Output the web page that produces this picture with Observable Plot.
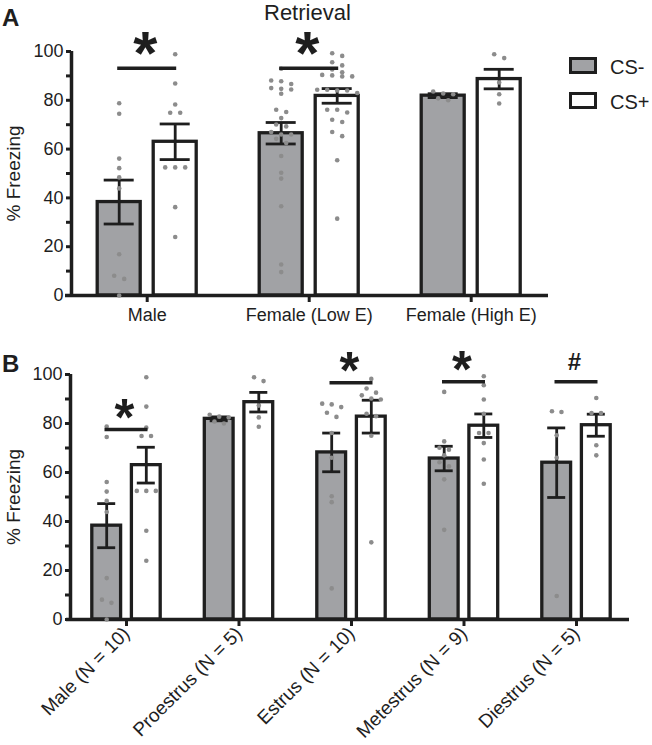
<!DOCTYPE html>
<html><head><meta charset="utf-8">
<script src="https://cdn.jsdelivr.net/npm/d3@7"></script>
<script src="https://cdn.jsdelivr.net/npm/@observablehq/plot@0.6"></script>
<style>
body{margin:0;background:#fff;font-family:"Liberation Sans",Arial,sans-serif;color:#1e1e1e;}
#wrap{position:relative;width:652px;height:745px;overflow:hidden;}
.abs{position:absolute;}
.panel-letter{font-weight:bold;font-size:24px;line-height:1;}
.title{font-size:22px;line-height:1;}
.lg-box{position:absolute;width:28px;height:17px;box-sizing:border-box;border:3px solid #1e1e1e;}
.lg-text{position:absolute;font-size:20px;line-height:1;}
svg{overflow:visible;}
</style></head>
<body><div id="wrap">
<div id="pa" class="abs" style="left:0;top:0"></div>
<div id="pb" class="abs" style="left:0;top:330px"></div>
<div class="abs panel-letter" style="left:2px;top:6px">A</div>
<div class="abs panel-letter" style="left:2px;top:352px">B</div>
<div class="abs title" style="left:264px;top:2px">Retrieval</div>
<div class="lg-box" style="left:569px;top:57px;background:#a1a2a5"></div>
<div class="lg-text" style="left:610px;top:57px">CS-</div>
<div class="lg-box" style="left:569px;top:92px;background:#fff"></div>
<div class="lg-text" style="left:610px;top:92px">CS+</div>
</div>
<script>
// ---------- data ----------
const groupsA = ["Male", "Female (Low E)", "Female (High E)"];
const meanMinusA = [38.3, 66.5, 81.9];
const semMinusA  = [9.0, 4.4, 0.8];
const meanPlusA  = [63.0, 81.8, 88.7];
const semPlusA   = [7.3, 3.0, 4.0];

const groupsB = ["Male (N = 10)", "Proestrus (N = 5)", "Estrus (N = 10)", "Metestrus (N = 9)", "Diestrus (N = 5)"];
const meanMinusB = [38.3, 81.9, 68.2, 65.7, 64.0];
const semMinusB  = [9.0, 0.8, 7.9, 5.0, 14.2];
const meanPlusB  = [63.0, 88.7, 82.8, 79.1, 79.3];
const semPlusB   = [7.3, 4.0, 6.7, 4.8, 4.5];

// individual animals (% freezing)
const maleMinus = [78.8, 74.5, 56.1, 52.2, 48.4, 43.9, 16.9, 8.1, 6.8, 0];
const malePlus  = [98.9, 86.9, 78.3, 74.9, 74.9, 52.5, 52.5, 52.5, 36.2, 24.0];
const proMinus  = [83.6, 82.8, 82.5, 80.8, 80.0];
const proPlus   = [98.9, 97.3, 87.3, 82.5, 78.7];
const estMinus  = [88.1, 87.8, 86.7, 84.4, 82.7, 76.1, 66.0, 50.3, 47.9, 12.7];
const estPlus   = [98.2, 94.3, 92.6, 91.5, 90.2, 89.8, 84.0, 83.0, 75.0, 31.5];
const metMinus  = [92.9, 72.7, 70.1, 69.3, 67.0, 64.2, 62.5, 57.2, 36.6];
const metPlus   = [99.3, 95.6, 89.8, 84.0, 76.1, 76.1, 72.0, 65.3, 55.4];
const dieMinus  = [85.0, 84.7, 75.2, 66.0, 9.6];
const diePlus   = [90.4, 84.3, 84.3, 71.1, 67.0];

const pointsMinusA = [maleMinus, estMinus.concat(metMinus, dieMinus), proMinus];
const pointsPlusA  = [malePlus, estPlus.concat(metPlus, diePlus), proPlus];
const pointsMinusB = [maleMinus, proMinus, estMinus, metMinus, dieMinus];
const pointsPlusB  = [malePlus, proPlus, estPlus, metPlus, diePlus];

const sigGroupA = [0, 1];
const sigHeightA = [93.1, 93.1];
const sigSymbolA = ["*", "*"];
const sigGroupB = [0, 2, 3, 4];
const sigHeightB = [77.6, 96.6, 97.0, 97.0];
const sigSymbolB = ["*", "*", "*", "#"];

// ---------- drawing ----------
const INK = "#1e1e1e", GRAY = "#a1a2a5", DOT = "#8c8c8c";
const FONT = "'Liberation Sans', Arial, Helvetica, sans-serif";

// deterministic column scatter: values close in height are laid side by side
function swarm(values, pxPerUnit, step, rowTol) {
  const sorted = values.slice().sort((a, b) => b - a);
  const rows = [];
  for (const v of sorted) {
    const r = rows[rows.length - 1];
    if (r && (r[0] - v) * pxPerUnit < rowTol) r.push(v); else rows.push([v]);
  }
  const out = [];
  for (const r of rows) r.forEach((v, k) => out.push({v, off: (k - (r.length - 1) / 2) * step}));
  return out;
}

function panel(o) {
  const n = o.groups.length;
  const pxX = (o.xRange[1] - o.xRange[0]) / n;
  const pxY = (o.height - o.marginBottom - o.marginTop) / 100;
  const toX = px => -0.5 + (px - o.xRange[0]) / pxX;
  const off = {"CS-": -o.barOffPx / pxX, "CS+": o.barOffPx / pxX};
  const hw = o.barHalfPx / pxX, cap = o.capHalfPx / pxX, sh = o.sigHalfPx / pxX;
  const bars = [];
  o.groups.forEach((g, i) => {
    bars.push({gi: i, cond: "CS-", mean: o.mMinus[i], sem: o.sMinus[i]});
    bars.push({gi: i, cond: "CS+", mean: o.mPlus[i], sem: o.sPlus[i]});
  });
  const pts = [];
  o.groups.forEach((g, i) => {
    [["CS-", o.pMinus[i]], ["CS+", o.pPlus[i]]].forEach(([cond, arr]) => {
      for (const p of swarm(arr, pxY, o.dotStep, o.rowTol))
        pts.push({gi: i, cond, v: p.v, x: i + off[cond] + p.off / pxX});
    });
  });
  const sig = o.sigGroup.map((g, k) => ({gi: g, h: o.sigHeight[k], s: o.sigSymbol[k]}));
  const cx = d => d.gi + off[d.cond];
  const yAxisX = toX(o.marginLeft);
  return Plot.plot({
    width: 652, height: o.height,
    marginLeft: o.marginLeft, marginRight: 0, marginTop: o.marginTop, marginBottom: o.marginBottom,
    x: {type: "linear", domain: [-0.5, n - 0.5], range: o.xRange, label: null},
    y: {domain: [0, 100], label: null},
    style: {fontFamily: FONT, fontSize: "18px", color: INK, background: "transparent", overflow: "visible"},
    marks: [
      Plot.rect(bars, {x1: d => cx(d) - hw, x2: d => cx(d) + hw, y1: 0, y2: "mean",
        fill: d => d.cond === "CS-" ? GRAY : "#ffffff", stroke: INK, strokeWidth: 3.3}),
      Plot.ruleX(bars, {x: cx, y1: d => d.mean - d.sem, y2: d => d.mean + d.sem, stroke: INK, strokeWidth: 2.8}),
      Plot.ruleY(bars, {y: d => d.mean + d.sem, x1: d => cx(d) - cap, x2: d => cx(d) + cap, stroke: INK, strokeWidth: 2.8}),
      Plot.ruleY(bars, {y: d => d.mean - d.sem, x1: d => cx(d) - cap, x2: d => cx(d) + cap, stroke: INK, strokeWidth: 2.8}),
      Plot.ruleY([0], {x1: toX(o.xLinePx[0]), x2: toX(o.xLinePx[1]), stroke: INK, strokeWidth: 3.5}),
      Plot.ruleX([yAxisX], {y1: 0, y2: 100, stroke: INK, strokeWidth: 3.5}),
      Plot.dot(pts, {x: "x", y: "v", r: 2.3, fill: DOT, stroke: "none"}),
      Plot.ruleY(sig, {y: "h", x1: d => d.gi - sh, x2: d => d.gi + sh, stroke: INK, strokeWidth: 3.5}),
      Plot.text(sig.filter(d => d.s === "*"), {x: "gi", y: "h", text: "s", fontSize: o.starSize, fontWeight: "bold",
        dy: o.starDy, dx: -2, fill: INK}),
      Plot.text(sig.filter(d => d.s === "#"), {x: "gi", y: "h", text: "s", fontSize: 24, fontWeight: "bold",
        dy: o.hashDy, dx: -2, fill: INK}),
      Plot.axisY({ticks: d3.range(0, 101, 10), tickFormat: d => d % 20 === 0 ? String(d) : "",
        tickSize: 5, tickPadding: 3, strokeWidth: 3, label: null}),
      Plot.axisX({ticks: d3.range(n), tickFormat: i => o.groups[i], tickSize: 7, tickPadding: o.tickPadX,
        strokeWidth: 3, tickRotate: o.rotate, fontSize: o.xFont, label: null}),
      Plot.text(["% Freezing"], {x: yAxisX, y: 50, text: d => d, rotate: -90, dx: -(o.marginLeft - 13), fontSize: 19, fill: INK})
    ]
  });
}

document.getElementById("pa").append(panel({
  groups: groupsA, mMinus: meanMinusA, sMinus: semMinusA, mPlus: meanPlusA, sPlus: semPlusA,
  pMinus: pointsMinusA, pPlus: pointsPlusA,
  sigGroup: sigGroupA, sigHeight: sigHeightA, sigSymbol: sigSymbolA,
  height: 330, marginTop: 51, marginBottom: 35, marginLeft: 71,
  xRange: [65.7, 551.7], xLinePx: [65, 548],
  barOffPx: 28, barHalfPx: 21.5, capHalfPx: 15, sigHalfPx: 29.5, dotStep: 10, rowTol: 5,
  starSize: 62, starDy: -14, hashDy: -20, rotate: 0, tickPadX: 6, xFont: 18
}));

document.getElementById("pb").append(panel({
  groups: groupsB, mMinus: meanMinusB, sMinus: semMinusB, mPlus: meanPlusB, sPlus: semPlusB,
  pMinus: pointsMinusB, pPlus: pointsPlusB,
  sigGroup: sigGroupB, sigHeight: sigHeightB, sigSymbol: sigSymbolB,
  height: 415, marginTop: 44, marginBottom: 126, marginLeft: 70,
  xRange: [69.75, 632.25], xLinePx: [66, 629],
  barOffPx: 19.8, barHalfPx: 14.4, capHalfPx: 9, sigHalfPx: 21.5, dotStep: 9.5, rowTol: 5,
  starSize: 51, starDy: -11, hashDy: -20, rotate: -45, tickPadX: 4, xFont: 19
}));
</script>
</body></html>
